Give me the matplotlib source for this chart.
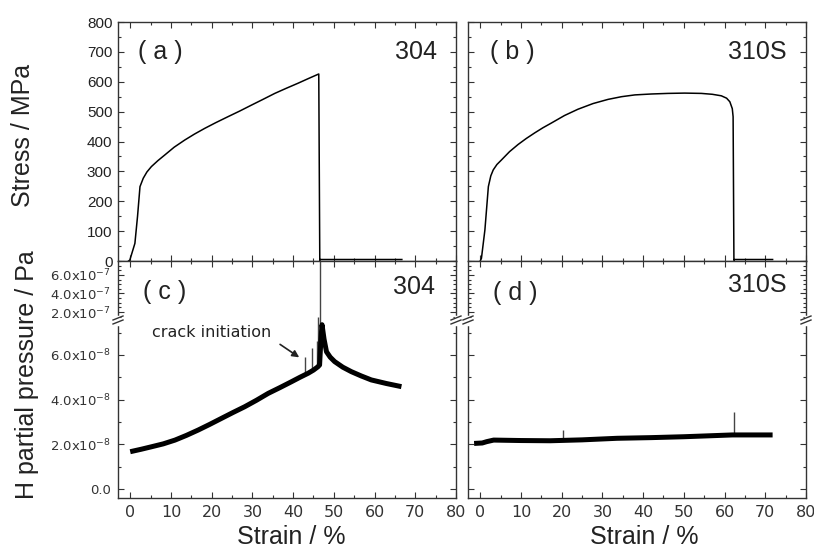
import numpy as np
import matplotlib.pyplot as plt
from matplotlib.ticker import MultipleLocator, FixedLocator, FuncFormatter, NullFormatter
from matplotlib.lines import Line2D

plt.rcParams['font.family'] = ['Liberation Sans', 'DejaVu Sans']

# (a) 304 stress-strain curve
strain_a = [-0.4, -0.1, 1.15, 1.8, 2.4, 3.2, 4.1, 5.2, 6.8, 8.5, 10.8, 13.4, 15.8, 18.3, 21.0,
            24.0, 26.9, 29.8, 32.6, 35.5, 38.3, 41.2, 43.8, 46.3, 46.55, 46.7, 66.7]
stress_a = [0, 3, 59, 150, 249, 277, 298, 316, 336, 355, 381, 405, 425, 444, 463,
            483, 502, 522, 541, 561, 578, 595, 611, 626, 2, 5, 5]

# (b) 310S stress-strain curve
strain_b = [0.0, 0.3, 1.15, 2.0, 2.6, 3.2, 4.1, 5.2, 7.2, 9.3, 11.3, 13.4, 15.4, 17.5, 20.7,
            24.0, 27.7, 31.4, 34.7, 38.0, 42.0, 46.1, 50.2, 54.3, 57.0, 59.2, 60.5, 61.3,
            61.9, 62.1, 62.3, 62.5, 71.8]
stress_b = [0, 9, 104, 249, 285, 305, 323, 338, 366, 390, 410, 429, 446, 462, 487,
            508, 527, 541, 550, 556, 559, 561, 562, 561, 558, 553, 545, 533,
            510, 483, 2, 5, 5]

# (c) 304 H partial pressure (x1e-8 Pa)
strain_c = [0.0, 2.7, 5.2, 8.1, 11.0, 13.8, 16.7, 19.5, 22.4, 25.2, 28.1, 31.0, 33.9, 36.8,
            39.6, 41.7, 43.7, 45.0, 46.1, 46.5, 46.8, 47.1, 47.6, 48.2, 49.1, 50.2, 52.2,
            54.3, 56.7, 59.2, 62.9, 66.6]
press_c = [1.67, 1.78, 1.89, 2.02, 2.19, 2.40, 2.64, 2.89, 3.16, 3.42, 3.68, 3.97, 4.28, 4.54,
           4.80, 5.00, 5.18, 5.32, 5.47, 5.55, 6.60, 7.35, 6.70, 6.14, 5.90, 5.70, 5.45,
           5.25, 5.06, 4.88, 4.72, 4.58]
spike_x_c = [42.9, 44.6, 45.8, 46.2, 46.6]
spike_lo_c = [5.10, 5.28, 5.45, 5.50, 5.55]
spike_hi_c = [5.90, 6.30, 6.60, 15.0, 80.0]

# (d) 310S H partial pressure (x1e-8 Pa)
strain_d = [-1.5, 0.5, 1.6, 3.3, 10.0, 17.2, 25.0, 33.6, 42.0, 50.0, 56.0, 61.9, 62.6, 66.0, 71.8]
press_d = [2.04, 2.06, 2.12, 2.19, 2.17, 2.16, 2.20, 2.27, 2.30, 2.34, 2.38, 2.42, 2.42, 2.42, 2.42]
spike_x_d = [20.4, 62.3]
spike_lo_d = [2.18, 2.42]
spike_hi_d = [2.65, 3.45]

xticks = [0, 10, 20, 30, 40, 50, 60, 70, 80]
lo_ticks = [0.0, 2.0, 4.0, 6.0]
hi_ticks = [2.0, 4.0, 6.0]

W, H = 814, 550
fig = plt.figure(figsize=(W / 100, H / 100), dpi=100)


def box(x0, y0, x1, y1):
    return [x0 / W, 1 - y1 / H, (x1 - x0) / W, (y1 - y0) / H]


spine_col = '#333333'
tick_col = '#333333'


def style(ax, top=True, bottom=True):
    ax.set_xlim(-3, 80)
    ax.xaxis.set_major_locator(FixedLocator(xticks))
    ax.xaxis.set_minor_locator(MultipleLocator(5))
    ax.tick_params(which='both', direction='in', top=top, bottom=bottom, right=True, left=True,
                   color=tick_col, width=0.8)
    ax.tick_params(which='major', length=4)
    ax.tick_params(which='minor', length=2.5)
    ax.xaxis.set_major_formatter(NullFormatter())
    for s in ax.spines.values():
        s.set_color(spine_col)
        s.set_linewidth(1.0)


lefts = [(118, 456), (468, 806)]
ax_top = []
ax_hi = []
ax_lo = []
for x0, x1 in lefts:
    at = fig.add_axes(box(x0, 22, x1, 261))
    ah = fig.add_axes(box(x0, 261, x1, 320))
    al = fig.add_axes(box(x0, 320, x1, 498))
    style(at)
    style(ah, bottom=False)
    style(al, top=False)
    ah.spines['bottom'].set_visible(False)
    al.spines['top'].set_visible(False)
    at.set_ylim(0, 800)
    at.yaxis.set_major_locator(MultipleLocator(100))
    at.yaxis.set_minor_locator(MultipleLocator(50))
    ah.set_ylim(1.14e-7, 7.5e-7)
    ah.yaxis.set_major_locator(FixedLocator([v * 1e-7 for v in hi_ticks]))
    ah.yaxis.set_minor_locator(MultipleLocator(0.5e-7))
    al.set_ylim(-0.4e-8, 7.56e-8)
    al.yaxis.set_major_locator(FixedLocator([v * 1e-8 for v in lo_ticks]))
    al.yaxis.set_minor_locator(MultipleLocator(1e-8))
    ax_top.append(at)
    ax_hi.append(ah)
    ax_lo.append(al)

# y tick labels only on left column
ax_top[0].tick_params(axis='y', labelsize=11, pad=4, labelcolor='#222222')
ax_top[1].yaxis.set_major_formatter(NullFormatter())


def fmt_hi(v, pos):
    return f'{v / 1e-7:.1f}x10$^{{-7}}$'


def fmt_lo(v, pos):
    if abs(v) < 1e-12:
        return '0.0'
    return f'{v / 1e-8:.1f}x10$^{{-8}}$'


for ax, f in [(ax_hi[0], fmt_hi), (ax_lo[0], fmt_lo)]:
    ax.yaxis.set_major_formatter(FuncFormatter(f))
    ax.tick_params(axis='y', labelsize=9.5, pad=5, labelcolor='#333333')
    for lab in ax.get_yticklabels():
        lab.set_family('DejaVu Sans')
ax_hi[1].yaxis.set_major_formatter(NullFormatter())
ax_lo[1].yaxis.set_major_formatter(NullFormatter())

for al in ax_lo:
    al.xaxis.set_major_formatter(FuncFormatter(lambda v, p: f'{v:.0f}'))
    al.tick_params(axis='x', labelsize=11.5, pad=5, labelcolor='#333333')
    for lab in al.get_xticklabels():
        lab.set_family('DejaVu Sans')

# stress curves
ax_top[0].plot(strain_a, stress_a, color='black', lw=1.1)
ax_top[1].plot(strain_b, stress_b, color='black', lw=1.1)

# H partial pressure curves (drawn on both segments of the broken axis)
pc = np.array(press_c) * 1e-8
pd = np.array(press_d) * 1e-8
for ax in (ax_hi[0], ax_lo[0]):
    ax.vlines(spike_x_c, np.array(spike_lo_c) * 1e-8, np.array(spike_hi_c) * 1e-8,
              color='#444444', lw=1.0)
    ax.plot(strain_c, pc, color='black', lw=3.6, solid_capstyle='butt', solid_joinstyle='round')
for ax in (ax_hi[1], ax_lo[1]):
    ax.vlines(spike_x_d, np.array(spike_lo_d) * 1e-8, np.array(spike_hi_d) * 1e-8,
              color='#444444', lw=1.0)
    ax.plot(strain_d, pd, color='black', lw=3.6, solid_capstyle='butt', solid_joinstyle='round')

# panel labels
lab_kw = dict(fontsize=18, color='#222222')
ax_top[0].text(0.06, 0.875, '( a )', transform=ax_top[0].transAxes, ha='left', va='center', **lab_kw)
ax_top[0].text(0.944, 0.875, '304', transform=ax_top[0].transAxes, ha='right', va='center', **lab_kw)
ax_top[1].text(0.065, 0.875, '( b )', transform=ax_top[1].transAxes, ha='left', va='center', **lab_kw)
ax_top[1].text(0.944, 0.875, '310S', transform=ax_top[1].transAxes, ha='right', va='center', **lab_kw)
ax_hi[0].text(0.075, 0.47, '( c )', transform=ax_hi[0].transAxes, ha='left', va='center', **lab_kw)
ax_hi[0].text(0.938, 0.56, '304', transform=ax_hi[0].transAxes, ha='right', va='center', **lab_kw)
ax_hi[1].text(0.074, 0.46, '( d )', transform=ax_hi[1].transAxes, ha='left', va='center', **lab_kw)
ax_hi[1].text(0.944, 0.59, '310S', transform=ax_hi[1].transAxes, ha='right', va='center', **lab_kw)

# crack initiation annotation
ax_lo[0].text(5.4, 7.02e-8, 'crack initiation', fontsize=11.5, family='DejaVu Sans',
              ha='left', va='center', color='#222222')
ax_lo[0].annotate('', xy=(41.5, 5.89e-8), xytext=(36.8, 6.47e-8),
                  arrowprops=dict(arrowstyle='-|>', color='#222222', lw=1.2,
                                  mutation_scale=10, shrinkA=0, shrinkB=0))

# axis labels
fig.text(23 / W, 1 - 135 / H, 'Stress / MPa', rotation=90, fontsize=18,
         ha='center', va='center', color='#222222')
fig.text(27 / W, 1 - 375 / H, 'H partial pressure / Pa', rotation=90, fontsize=18,
         ha='center', va='center', color='#222222')
fig.text(291 / W, 1 - 537 / H, 'Strain / %', fontsize=18, ha='center', va='center', color='#222222')
fig.text(644 / W, 1 - 537 / H, 'Strain / %', fontsize=18, ha='center', va='center', color='#222222')

# break marks on the spines of the lower panels
for x in (118, 456, 468, 806):
    fig.add_artist(Line2D([x / W, x / W], [1 - 316.5 / H, 1 - 323.5 / H],
                          transform=fig.transFigure, color='white', lw=2.5))
    for dy in (-2, 2):
        fig.add_artist(Line2D([(x - 5) / W, (x + 5) / W],
                              [1 - (322 + dy) / H, 1 - (318 + dy) / H],
                              transform=fig.transFigure, color=spine_col, lw=1.0))

fig.savefig('out.png', dpi=100, facecolor='white')
